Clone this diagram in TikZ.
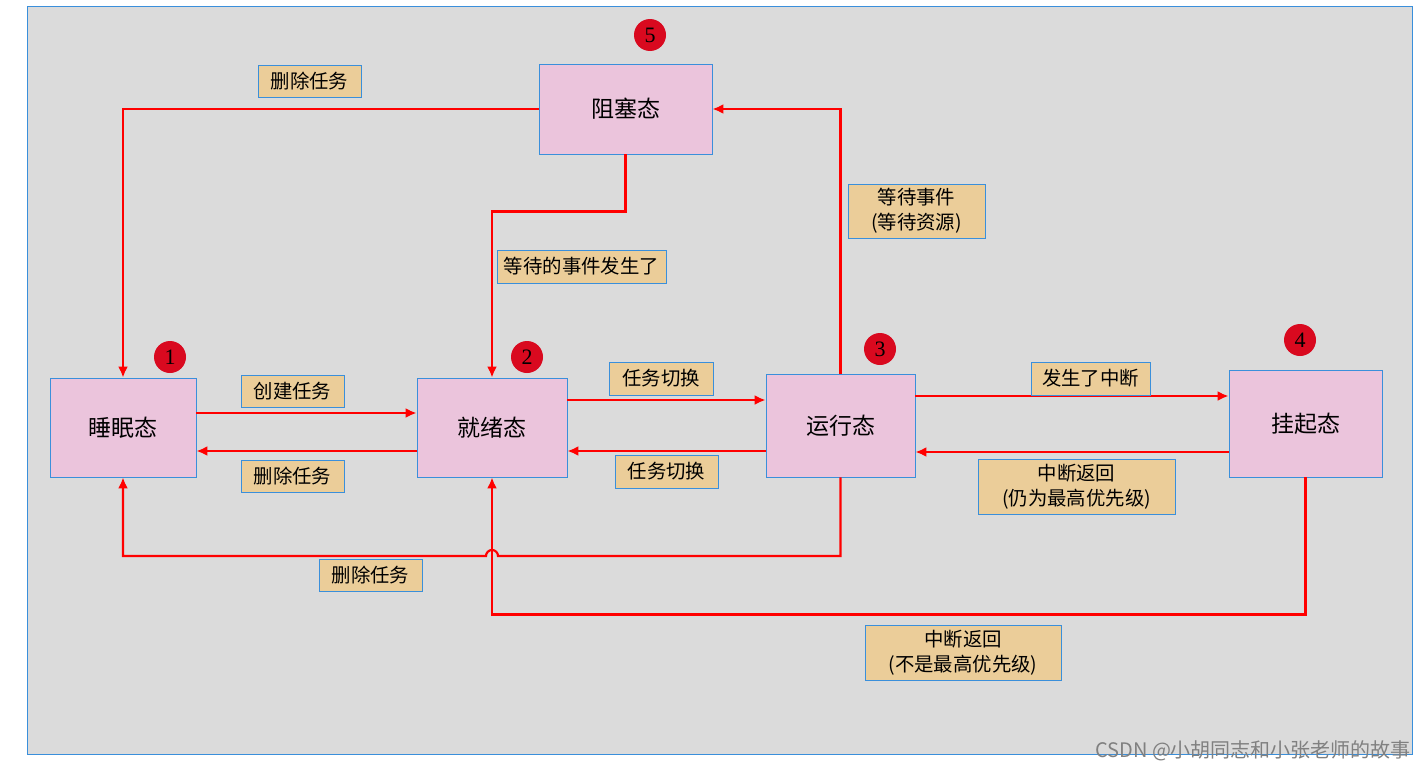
\documentclass[tikz,border=0pt]{standalone}
\usepackage{fontspec}
\setmainfont{Liberation Serif}
\newfontfamily\cjk{Noto Sans CJK SC}
\usetikzlibrary{arrows.meta}
\definecolor{bggray}{HTML}{DBDBDB}
\definecolor{lineblue}{HTML}{3A8FDB}
\definecolor{statepink}{HTML}{EBC4DC}
\definecolor{tagtan}{HTML}{EBCD99}
\definecolor{numred}{HTML}{D9091F}

\begin{document}
\begin{tikzpicture}[x=0.5pt,y=-0.5pt,
    state/.style={draw=lineblue,fill=statepink,inner sep=0pt,font=\cjk\fontsize{11.5}{13}\selectfont},
    tag/.style={draw=lineblue,fill=tagtan,inner sep=0pt,align=center,font=\cjk\fontsize{9.7}{12.5}\selectfont},
    num/.style={circle,fill=numred,minimum size=16pt,inner sep=0pt,font=\fontsize{11}{11}\selectfont},
    arr/.style={red,line width=1.1pt,-{Latex[length=5.5pt,width=5pt]}}]
    \useasboundingbox (0,0) rectangle (1428,771);
    \filldraw[fill=bggray,draw=lineblue,line width=0.5pt] (27,6) rectangle (1412,754);
    \node[anchor=east,text=gray,font=\cjk\fontsize{10}{10}\selectfont] (mark) at (1418,751) {CSDN @小胡同志和小张老师的故事};

    \node[state,minimum width=73pt,minimum height=49.5pt] (sleep) at (123,427.5) {睡眠态};
    \node[state,minimum width=75pt,minimum height=49.5pt] (ready) at (492,427.5) {就绪态};
    \node[state,minimum width=74.5pt,minimum height=51.5pt] (running) at (840.5,425.5) {运行态};
    \node[state,minimum width=76.5pt,minimum height=53.5pt] (suspend) at (1305.5,423.5) {挂起态};
    \node[state,minimum width=86.5pt,minimum height=45pt] (blocked) at (625.5,109) {阻塞态};

    \node[num] (n1) at (170,357) {1};
    \node[num] (n2) at (527,357) {2};
    \node[num] (n3) at (880,349) {3};
    \node[num] (n4) at (1300,340) {4};
    \node[num] (n5) at (650,35) {5};

    \draw[arr] ([yshift=7.25pt]sleep.east) -- ([yshift=7.25pt]ready.west);
    \draw[arr] ([yshift=-11.75pt]ready.west) -- ([yshift=-11.75pt]sleep.east);
    \draw[arr] ([yshift=13.75pt]ready.east) -- ([yshift=13.75pt]ready.east -| running.west);
    \draw[arr] ([yshift=-12.75pt]running.west) -- ([yshift=-12.75pt]running.west -| ready.east);
    \draw[arr] ([yshift=14.75pt]running.east) -- ([yshift=14.75pt]running.east -| suspend.west);
    \draw[arr] ([yshift=-14.25pt]suspend.west) -- ([yshift=-14.25pt]suspend.west -| running.east);
    \draw[arr] (suspend.south) -- ++(0,137) -| (ready.south);
    \draw[arr] (running.south) |- (498,556) arc[start angle=0,end angle=-180,radius=6] -| (sleep.south);
    \draw[arr] (running.north) |- (blocked.east);
    \draw[arr] (blocked.south) -- ++(0,57) -| (ready.north);
    \draw[arr] (blocked.west) -| (sleep.north);

    \node[tag,minimum width=51.5pt,minimum height=16pt] (l1) at (292.5,391) {创建任务};
    \node[tag,minimum width=51.5pt,minimum height=16pt] (l2) at (292.5,476) {删除任务};
    \node[tag,minimum width=52pt,minimum height=16.5pt] (l3) at (661,378.5) {任务切换};
    \node[tag,minimum width=51.5pt,minimum height=16.5pt] (l4) at (666.5,471.5) {任务切换};
    \node[tag,minimum width=59.5pt,minimum height=16.5pt] (l5) at (1090.5,378.5) {发生了中断};
    \node[tag,minimum width=98.5pt,minimum height=27.5pt] (l6) at (1076.5,486.5) {中断返回\\(仍为最高优先级)};
    \node[tag,minimum width=98pt,minimum height=27.5pt] (l7) at (963,652.5) {中断返回\\(不是最高优先级)};
    \node[tag,minimum width=51.5pt,minimum height=16pt] (l8) at (370.5,575) {删除任务};
    \node[tag,minimum width=68.5pt,minimum height=27pt] (l9) at (916.5,211) {等待事件\\(等待资源)};
    \node[tag,minimum width=84.5pt,minimum height=16.5pt] (l10) at (581.5,266.5) {等待的事件发生了};
    \node[tag,minimum width=51.5pt,minimum height=16pt] (l11) at (309.5,81) {删除任务};
\end{tikzpicture}
\end{document}
